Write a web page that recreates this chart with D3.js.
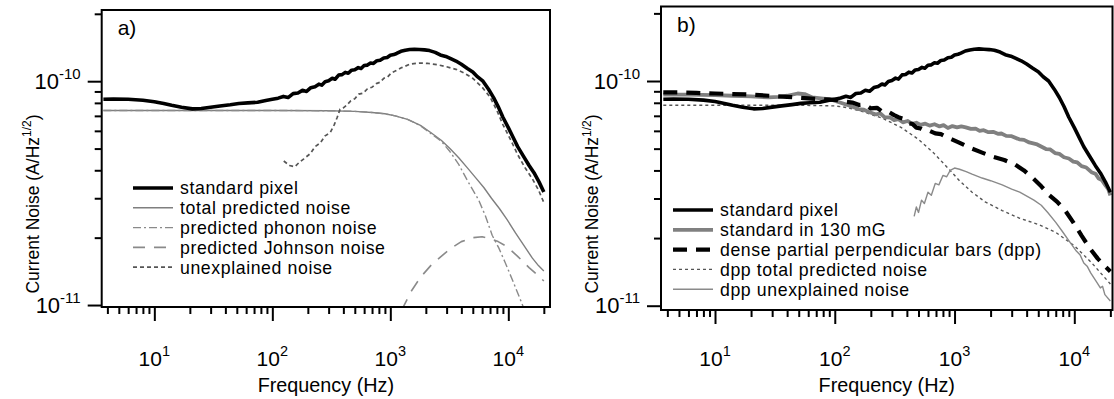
<!DOCTYPE html>
<html lang="en">
<head>
<meta charset="UTF-8">
<title>current noise</title>
<script src="https://cdn.jsdelivr.net/npm/d3@7"></script>
<style>
  body { margin: 0; background: #fff; }
  svg { display: block; font-family: "Liberation Sans", Arial, Helvetica, sans-serif; }
</style>
</head>
<body>
<script>
// every series is a list of [frequency (Hz), current noise (A/Hz^1/2)]

// standard pixel, drawn in both panels
let stdPixel = [
  [3.7, 8.3e-11], [4.5, 8.32e-11], [6, 8.3e-11], [8, 8.22e-11], [10, 8.1e-11], [12, 7.95e-11],
  [14, 7.8e-11], [17, 7.65e-11], [21, 7.52e-11], [25, 7.55e-11], [30, 7.65e-11], [36, 7.75e-11],
  [44, 7.85e-11], [52, 7.95e-11], [62, 8.0e-11], [75, 8.05e-11], [88, 8.2e-11], [100, 8.3e-11],
  [112, 8.4e-11], [124, 8.55e-11], [136, 8.45e-11], [150, 8.8e-11], [165, 8.85e-11], [180, 9.1e-11],
  [195, 9.0e-11], [212, 9.35e-11], [230, 9.45e-11], [248, 9.7e-11], [262, 9.6e-11], [280, 9.95e-11],
  [300, 10.05e-11], [322, 10.3e-11], [340, 10.2e-11], [365, 10.65e-11], [390, 10.7e-11], [415, 10.95e-11],
  [440, 10.85e-11], [470, 11.2e-11], [500, 11.25e-11], [535, 11.5e-11], [565, 11.4e-11], [600, 11.75e-11],
  [640, 11.8e-11], [680, 12.05e-11], [720, 12.0e-11], [770, 12.35e-11], [820, 12.4e-11], [880, 12.7e-11],
  [940, 12.75e-11], [1000, 13.05e-11], [1070, 13.15e-11], [1130, 13.3e-11], [1230, 13.6e-11],
  [1340, 13.75e-11], [1460, 13.85e-11], [1600, 13.9e-11], [1760, 13.85e-11], [1950, 13.8e-11],
  [2150, 13.7e-11], [2400, 13.45e-11], [2650, 13.1e-11], [2950, 12.9e-11], [3250, 12.6e-11],
  [3600, 12.3e-11], [4000, 11.9e-11], [4500, 11.4e-11], [5000, 11.0e-11], [5500, 10.45e-11],
  [6100, 10.0e-11], [6800, 9.2e-11], [7500, 8.45e-11], [8200, 7.7e-11], [9000, 6.9e-11],
  [10000, 6.2e-11], [11000, 5.6e-11], [12000, 5.1e-11], [13500, 4.6e-11], [15000, 4.2e-11],
  [16500, 3.9e-11], [18200, 3.55e-11], [20000, 3.2e-11]
];

// panel a
let aTotal = [
  [3.7, 7.4e-11], [100, 7.4e-11], [300, 7.38e-11], [500, 7.33e-11], [700, 7.25e-11], [900, 7.15e-11],
  [1100, 7.0e-11], [1400, 6.75e-11], [1800, 6.35e-11], [2200, 5.9e-11], [2700, 5.45e-11], [3200, 5.0e-11],
  [3800, 4.55e-11], [4500, 4.1e-11], [5300, 3.7e-11], [6200, 3.35e-11], [7200, 3.0e-11], [8400, 2.7e-11],
  [9800, 2.4e-11], [11500, 2.1e-11], [13500, 1.85e-11], [16000, 1.62e-11], [18000, 1.5e-11], [20000, 1.42e-11]
];
let aPhonon = [
  [3.7, 7.4e-11], [100, 7.4e-11], [300, 7.38e-11], [500, 7.33e-11], [700, 7.25e-11], [900, 7.15e-11],
  [1100, 7.0e-11], [1400, 6.75e-11], [1800, 6.33e-11], [2200, 5.85e-11], [2700, 5.4e-11], [3200, 4.85e-11],
  [3800, 4.25e-11], [4500, 3.6e-11], [5600, 2.95e-11], [6400, 2.5e-11], [7300, 2.05e-11], [8300, 1.8e-11],
  [9400, 1.55e-11], [11000, 1.27e-11], [13000, 1.02e-11], [13800, 0.94e-11]
];
let aJohnson = [
  [1250, 0.95e-11], [1500, 1.15e-11], [1800, 1.33e-11], [2200, 1.5e-11], [2700, 1.65e-11], [3300, 1.8e-11],
  [4000, 1.92e-11], [5000, 2.0e-11], [6000, 2.02e-11], [7000, 1.98e-11], [8200, 1.92e-11], [9800, 1.82e-11],
  [12000, 1.65e-11], [15000, 1.47e-11], [18000, 1.35e-11], [20000, 1.28e-11]
];
let aUnexplained = [
  [125, 4.4e-11], [140, 4.2e-11], [155, 4.15e-11], [170, 4.35e-11], [185, 4.5e-11], [210, 4.75e-11],
  [230, 5.1e-11], [255, 5.3e-11], [280, 5.7e-11], [310, 5.9e-11], [335, 6.4e-11], [355, 6.9e-11],
  [375, 7.5e-11], [400, 7.6e-11], [425, 7.8e-11], [460, 8.15e-11], [500, 8.35e-11], [540, 8.75e-11],
  [590, 8.85e-11], [640, 9.25e-11], [700, 9.4e-11], [760, 9.75e-11], [820, 9.9e-11], [880, 10.3e-11],
  [950, 10.45e-11], [1020, 10.9e-11], [1100, 11.1e-11], [1250, 11.5e-11], [1490, 11.95e-11],
  [1800, 12.05e-11], [2100, 12.0e-11], [2500, 11.85e-11], [3000, 11.6e-11], [3600, 11.3e-11],
  [4200, 10.9e-11], [5000, 10.3e-11], [6000, 9.4e-11], [7000, 8.5e-11], [8000, 7.4e-11],
  [9000, 6.4e-11], [10500, 5.45e-11], [12000, 4.7e-11], [14000, 4.07e-11], [16000, 3.66e-11],
  [18000, 3.27e-11], [20000, 2.87e-11]
];

// panel b
let b130mG = [
  [3.7, 8.7e-11], [6, 8.7e-11], [10, 8.65e-11], [14, 8.6e-11], [20, 8.55e-11], [28, 8.45e-11],
  [34, 8.5e-11], [40, 8.6e-11], [49, 8.8e-11], [56, 8.75e-11], [65, 8.45e-11], [80, 8.35e-11],
  [91, 8.3e-11], [112, 8.0e-11], [135, 7.75e-11], [158, 7.5e-11], [175, 7.45e-11], [190, 7.3e-11],
  [222, 7.1e-11], [240, 7.18e-11], [260, 6.9e-11], [290, 6.88e-11], [313, 6.7e-11], [340, 6.76e-11],
  [370, 6.55e-11], [405, 6.64e-11], [443, 6.45e-11], [480, 6.52e-11], [520, 6.38e-11], [570, 6.46e-11],
  [620, 6.33e-11], [680, 6.42e-11], [750, 6.28e-11], [810, 6.36e-11], [880, 6.18e-11], [960, 6.3e-11],
  [1050, 6.22e-11], [1140, 6.28e-11], [1240, 6.22e-11], [1370, 6.12e-11], [1500, 6.14e-11],
  [1620, 6.0e-11], [1750, 6.04e-11], [1920, 5.92e-11], [2100, 5.94e-11], [2300, 5.82e-11],
  [2460, 5.84e-11], [2700, 5.7e-11], [3000, 5.68e-11], [3470, 5.5e-11], [3800, 5.47e-11],
  [4200, 5.33e-11], [4900, 5.22e-11], [5800, 4.98e-11], [6300, 4.96e-11], [6900, 4.78e-11],
  [7500, 4.74e-11], [8200, 4.58e-11], [9000, 4.52e-11], [9800, 4.38e-11], [10600, 4.34e-11],
  [11500, 4.18e-11], [12600, 4.12e-11], [13900, 3.93e-11], [15000, 3.87e-11], [16000, 3.68e-11],
  [17000, 3.62e-11], [18200, 3.43e-11], [19200, 3.3e-11], [20000, 3.1e-11]
];
let bDpp = [
  [3.7, 8.9e-11], [5, 8.9e-11], [7, 8.85e-11], [10, 8.8e-11], [14, 8.75e-11], [20, 8.7e-11],
  [28, 8.6e-11], [40, 8.5e-11], [56, 8.4e-11], [75, 8.3e-11], [100, 8.25e-11], [120, 8.1e-11],
  [140, 8.02e-11], [160, 7.82e-11], [180, 7.85e-11], [200, 7.55e-11], [225, 7.6e-11], [250, 7.3e-11],
  [280, 7.3e-11], [313, 7.05e-11], [340, 6.9e-11], [370, 6.8e-11], [405, 6.48e-11], [443, 6.45e-11],
  [480, 6.2e-11], [520, 6.15e-11], [570, 6.0e-11], [620, 6.0e-11], [690, 5.85e-11], [770, 5.8e-11],
  [850, 5.65e-11], [950, 5.5e-11], [1070, 5.35e-11], [1200, 5.2e-11], [1400, 5.0e-11], [1700, 4.8e-11],
  [2100, 4.6e-11], [2600, 4.45e-11], [3200, 4.25e-11], [3800, 4.0e-11], [4500, 3.7e-11],
  [5300, 3.4e-11], [6200, 3.1e-11], [7200, 2.9e-11], [8400, 2.65e-11], [9800, 2.35e-11],
  [11500, 2.05e-11], [13500, 1.8e-11], [15700, 1.62e-11], [18000, 1.5e-11], [20000, 1.42e-11]
];
let bDppTotal = [
  [3.7, 7.8e-11], [50, 7.8e-11], [100, 7.75e-11], [130, 7.6e-11], [180, 7.25e-11], [255, 6.8e-11],
  [360, 6.2e-11], [500, 5.5e-11], [665, 4.8e-11], [880, 4.1e-11], [1100, 3.6e-11], [1400, 3.2e-11],
  [1800, 2.9e-11], [2500, 2.65e-11], [3500, 2.45e-11], [5000, 2.3e-11], [7000, 2.12e-11],
  [10000, 1.85e-11], [14000, 1.55e-11], [20000, 1.25e-11]
];
let bDppUnexplained = [
  [460, 2.5e-11], [480, 2.75e-11], [500, 2.6e-11], [530, 2.95e-11], [560, 2.85e-11], [600, 3.2e-11],
  [640, 3.1e-11], [690, 3.5e-11], [740, 3.45e-11], [800, 3.8e-11], [860, 3.75e-11], [920, 4.0e-11],
  [1000, 4.1e-11], [1100, 4.05e-11], [1250, 3.95e-11], [1400, 3.85e-11], [1700, 3.7e-11],
  [2000, 3.6e-11], [2500, 3.45e-11], [3000, 3.3e-11], [3500, 3.2e-11], [4600, 2.95e-11],
  [5300, 2.8e-11], [6000, 2.6e-11], [7000, 2.35e-11], [7900, 2.15e-11], [9000, 1.95e-11],
  [10400, 1.75e-11], [11200, 1.68e-11], [12000, 1.55e-11], [12800, 1.5e-11], [13700, 1.4e-11],
  [15000, 1.3e-11], [16500, 1.2e-11], [17200, 1.22e-11], [18000, 1.12e-11], [20000, 1.05e-11]
];

let legendA = ['standard pixel', 'total predicted noise', 'predicted phonon noise',
  'predicted Johnson noise', 'unexplained noise'];
let legendB = ['standard pixel', 'standard in 130 mG', 'dense partial perpendicular bars (dpp)',
  'dpp total predicted noise', 'dpp unexplained noise'];

let majorX = [10, 100, 1000, 10000];
let minorX = [4, 5, 6, 7, 8, 9, 20, 30, 40, 50, 60, 70, 80, 90, 200, 300, 400, 500, 600, 700, 800, 900,
  2000, 3000, 4000, 5000, 6000, 7000, 8000, 9000, 20000];
let majorY = [1e-11, 1e-10];
let minorY = [2e-11, 3e-11, 4e-11, 5e-11, 6e-11, 7e-11, 8e-11, 9e-11, 2e-10];

let width = 1114;
let height = 399;

let styles = {
  black: { stroke: '#000', width: 3.6, dash: null },
  grey: { stroke: '#7f7f7f', width: 1.4, dash: null },
  phonon: { stroke: '#8a8a8a', width: 1.4, dash: '8,3,2,3' },
  johnson: { stroke: '#8a8a8a', width: 1.6, dash: '12,9' },
  unexpl: { stroke: '#555', width: 1.7, dash: '4,3' },
  greyThick: { stroke: '#808080', width: 3.8, dash: null },
  blackDash: { stroke: '#000', width: 4.2, dash: '14,9' },
  dotted: { stroke: '#555', width: 1.4, dash: '3,3' },
  greyThin: { stroke: '#8a8a8a', width: 1.4, dash: null }
};

let panels = [
  {
    label: 'a)', left: 101.7, right: 550, top: 10, bottom: 307,
    xDomain: [3.58, 22560], yDomain: [0.98e-11, 2.08e-10],
    series: [[aTotal, 'grey'], [aPhonon, 'phonon'], [aJohnson, 'johnson'], [aUnexplained, 'unexpl'], [stdPixel, 'black']],
    legend: legendA, legendStyles: ['black', 'grey', 'phonon', 'johnson', 'unexpl'],
    legX: 133, legY: 188, legStep: 19.8
  },
  {
    label: 'b)', left: 661, right: 1112.5, top: 6.5, bottom: 310,
    xDomain: [3.54, 20840], yDomain: [0.957e-11, 2.146e-10],
    series: [[bDppTotal, 'dotted'], [bDppUnexplained, 'greyThin'], [b130mG, 'greyThick'], [stdPixel, 'black'], [bDpp, 'blackDash']],
    legend: legendB, legendStyles: ['black', 'greyThick', 'blackDash', 'dotted', 'greyThin'],
    legX: 673, legY: 210, legStep: 19.8
  }
];

let svg = d3.select('body').append('svg')
  .attr('width', width)
  .attr('height', height);

panels.forEach(function (p, i) {
  drawPanel(p, i);
});

function applyStyle(sel, name) {
  let s = styles[name];
  sel.attr('fill', 'none')
    .attr('stroke', s.stroke)
    .attr('stroke-width', s.width)
    .attr('stroke-dasharray', s.dash);
}

function drawPanel(p, i) {
  let x = d3.scaleLog().domain(p.xDomain).range([p.left, p.right]);
  let y = d3.scaleLog().domain(p.yDomain).range([p.bottom, p.top]);
  let g = svg.append('g');

  g.append('clipPath')
    .attr('id', 'clip' + i)
    .append('rect')
    .attr('x', p.left)
    .attr('y', p.top)
    .attr('width', p.right - p.left)
    .attr('height', p.bottom - p.top);

  let line = d3.line()
    .x(function (d) { return x(d[0]); })
    .y(function (d) { return y(d[1]); });

  g.append('g')
    .attr('clip-path', 'url(#clip' + i + ')')
    .selectAll('path')
    .data(p.series)
    .enter()
    .append('path')
    .attr('d', function (d) { return line(d[0]); })
    .each(function (d) { applyStyle(d3.select(this), d[1]); })
    .attr('stroke-linejoin', 'round');

  // frame
  g.append('rect')
    .attr('x', p.left)
    .attr('y', p.top)
    .attr('width', p.right - p.left)
    .attr('height', p.bottom - p.top)
    .attr('fill', 'none')
    .attr('stroke', '#000')
    .attr('stroke-width', 2);

  // ticks
  let axes = [
    [d3.axisBottom(x).tickValues(minorX).tickSize(7), 'translate(0,' + p.bottom + ')'],
    [d3.axisBottom(x).tickValues(majorX).tickSize(14), 'translate(0,' + p.bottom + ')'],
    [d3.axisLeft(y).tickValues(minorY).tickSize(7), 'translate(' + p.left + ',0)'],
    [d3.axisLeft(y).tickValues(majorY).tickSize(14), 'translate(' + p.left + ',0)']
  ];
  axes.forEach(function (a) {
    let ax = g.append('g')
      .attr('transform', a[1])
      .call(a[0].tickFormat(''));
    ax.select('.domain').remove();
    ax.selectAll('line').attr('stroke', '#000').attr('stroke-width', 2);
  });

  // x tick labels
  let xl = g.selectAll('.xlab')
    .data(majorX)
    .enter()
    .append('text')
    .attr('x', function (d) { return x(d); })
    .attr('y', 366)
    .attr('text-anchor', 'middle')
    .attr('font-size', 21);
  xl.append('tspan').text('10');
  xl.append('tspan')
    .attr('dy', -10)
    .attr('font-size', 14.5)
    .text(function (d) { return Math.round(Math.log10(d)); });

  // y tick labels
  let yl = g.selectAll('.ylab')
    .data(majorY)
    .enter()
    .append('text')
    .attr('x', p.left - 21)
    .attr('y', function (d) { return y(d) + 7.5; })
    .attr('text-anchor', 'end')
    .attr('font-size', 22);
  yl.append('tspan').text('10');
  yl.append('tspan')
    .attr('dy', -10)
    .attr('font-size', 15)
    .text(function (d) { return Math.round(Math.log10(d)); });

  // axis titles
  g.append('text')
    .attr('x', (p.left + p.right) / 2)
    .attr('y', 392)
    .attr('text-anchor', 'middle')
    .attr('font-size', 19.8)
    .text('Frequency (Hz)');

  let yt = g.append('text')
    .attr('transform', 'translate(' + (p.left - 63) + ',204) rotate(-90)')
    .attr('text-anchor', 'middle')
    .attr('font-size', 17.5);
  yt.append('tspan').text('Current Noise (A/Hz');
  yt.append('tspan').attr('dy', -7.5).attr('font-size', 12).text('1/2');
  yt.append('tspan').attr('dy', 7.5).text(')');

  // panel label
  g.append('text')
    .attr('x', p.left + 16)
    .attr('y', p.top + 25)
    .attr('font-size', 21)
    .text(p.label);

  // legend
  let leg = g.selectAll('.leg')
    .data(p.legend)
    .enter()
    .append('g')
    .attr('transform', function (d, k) {
      return 'translate(' + p.legX + ',' + (p.legY + k * p.legStep) + ')';
    });
  leg.append('line')
    .attr('x1', 0)
    .attr('x2', 40)
    .each(function (d, k) { applyStyle(d3.select(this), p.legendStyles[k]); });
  leg.append('text')
    .attr('x', 47)
    .attr('y', 6.3)
    .attr('font-size', 17.7)
    .attr('letter-spacing', 0.6)
    .text(function (d) { return d; });
}
</script>
</body>
</html>
